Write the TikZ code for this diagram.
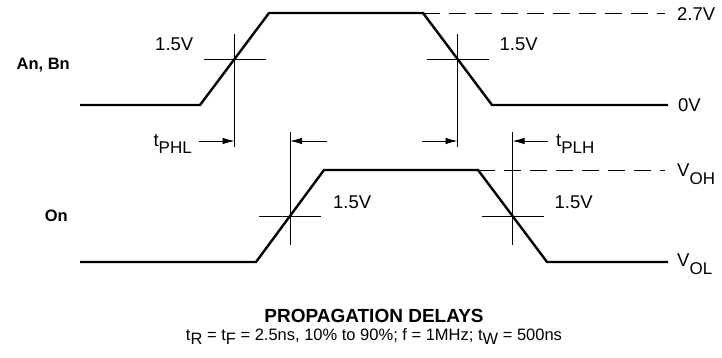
\documentclass[tikz,border=0pt]{standalone}
\usepackage{fontspec}
\setmainfont{Liberation Sans}
\usetikzlibrary{arrows.meta,calc}
\newcommand{\lowered}[2][6pt]{\raisebox{-#1}{\fontsize{17}{17}\selectfont #2}}

\begin{document}
\begin{tikzpicture}[x=1pt,y=-1pt,
    wave/.style={line width=2.4pt},
    thin/.style={line width=.8pt},
    level/.style={thin,dash pattern=on 17pt off 9pt},
    delay/.style={thin,-{Latex[length=12pt,width=6.5pt]}},
    volt/.style={font=\fontsize{18.5}{18.5}\selectfont,inner sep=0pt},
    signal/.style={font=\bfseries\fontsize{16.5}{16.5}\selectfont,anchor=east,inner sep=0pt}]
 \useasboundingbox (0,0) rectangle (722,358);
 % the two waveforms, with their 1.5V crossings
 \foreach \W/\Lo/\Hi/\A/\B/\C/\D/\Up/\Dn in {a/105/13/200/269/423/492/25/88,o/262/170/256/324/478/547/84/29}
 {\coordinate (\W-0) at (80,\Lo);
  \coordinate (\W-1) at (\A,\Lo);
  \coordinate (\W-2) at (\B,\Hi);
  \coordinate (\W-3) at (\C,\Hi);
  \coordinate (\W-4) at (\D,\Lo);
  \coordinate (\W-5) at (668,\Lo);
  \coordinate (\W-end) at (665,\Hi);
  \draw[wave] (\W-0) -- (\W-1) -- (\W-2) -- (\W-3) -- (\W-4) -- (\W-5);
  \draw[level] (\W-3) -- (\W-end);
  \coordinate (\W-up) at ($(\W-1)!.5!(\W-2)$);
  \coordinate (\W-dn) at ($(\W-3)!.5!(\W-4)$);
  \foreach \E in {up,dn}
  {\coordinate (\W-\E-l) at ([xshift=-31pt]\W-\E);
   \coordinate (\W-\E-r) at ([xshift=31pt]\W-\E);
   \coordinate (\W-\E-t) at ([yshift=\Up pt]\W-\E);
   \coordinate (\W-\E-b) at ([yshift=-\Dn pt]\W-\E);
   \draw[thin] (\W-\E-l) -- (\W-\E-r);
   \draw[thin] (\W-\E-t) -- (\W-\E-b);
  }}
 % delay arrows
 \foreach \P/\S in {a-up/-36,o-up/37,a-dn/-36,o-dn/35}
 {\coordinate (\P-tip) at (\P |- 0,141);
  \coordinate (\P-tail) at ([xshift=\S pt]\P-tip);
  \draw[delay] (\P-tail) -- (\P-tip);}
 % labels
 \node[volt,anchor=base east] (v-1) at ([shift={(-10,-8)}]a-up-l) {1.5V};
 \node[volt,anchor=base west] (v-2) at ([shift={(11,-8)}]a-dn-r) {1.5V};
 \node[volt,anchor=base west] (v-3) at ([shift={(12,-8)}]o-up-r) {1.5V};
 \node[volt,anchor=base west] (v-4) at ([shift={(11,-8)}]o-dn-r) {1.5V};
 \node[volt,anchor=base west] (hi-a) at (677,21) {2.7V};
 \node[volt,anchor=base west] (lo-a) at (678,112) {0V};
 \node[volt,anchor=base west] (hi-o) at (677,176) {V\lowered[8pt]{OH}};
 \node[volt,anchor=base west] (lo-o) at (677,266) {V\lowered[8pt]{OL}};
 \node[volt,anchor=base east] (phl) at (192,147) {t\lowered{PHL}};
 \node[volt,anchor=base west] (plh) at (556,147) {t\lowered{PLH}};
 \node[signal] (in) at (70,65) {An, Bn};
 \node[signal] (out) at (68,216) {On};
 \node[volt,font=\bfseries\fontsize{19}{19}\selectfont,anchor=base] (title) at (374,322) {PROPAGATION DELAYS};
 \node[volt,font=\fontsize{16.5}{16.5}\selectfont,anchor=base] (cond) at (374,340) {t\lowered[4pt]{\fontsize{16.5}{16.5}\selectfont R} = t\lowered[4pt]{\fontsize{16.5}{16.5}\selectfont F} = 2.5ns, 10\% to 90\%; f = 1MHz; t\lowered[4pt]{\fontsize{16.5}{16.5}\selectfont W} = 500ns};
\end{tikzpicture}
\end{document}
